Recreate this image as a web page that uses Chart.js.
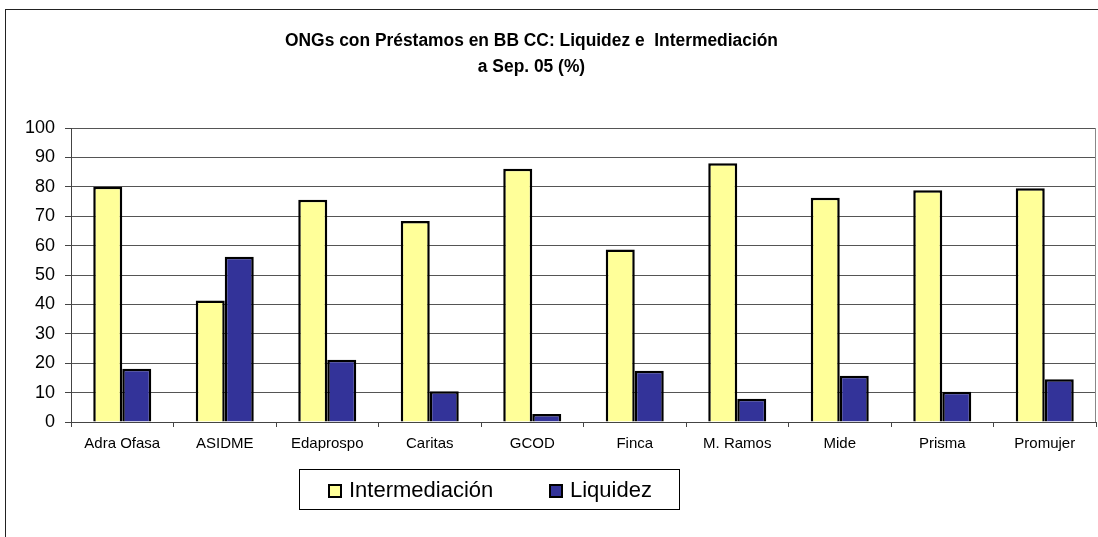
<!DOCTYPE html>
<html>
<head>
<meta charset="utf-8">
<script src="https://cdn.jsdelivr.net/npm/chart.js@4/dist/chart.umd.min.js"></script>
<style>
  body { margin: 0; background: #fff; }
  canvas { display: block; }
</style>
</head>
<body>
<canvas id="chart1" width="1098" height="537"></canvas>
<script>
var categories = ['Adra Ofasa', 'ASIDME', 'Edaprospo', 'Caritas', 'GCOD', 'Finca', 'M. Ramos', 'Mide', 'Prisma', 'Promujer'];
var intermediacion = [80, 41.3, 75.6, 68.4, 86.1, 58.7, 88, 76.3, 78.8, 79.5];
var liquidez = [18.1, 56.2, 21.2, 10.5, 2.7, 17.4, 7.9, 15.7, 10.3, 14.5];
var title_lines = ['ONGs con Préstamos en BB CC: Liquidez e  Intermediación', 'a Sep. 05 (%)'];

// marco exterior, titulo, borde derecho del area y leyenda con recuadro
var frame_plugin = {
    id: 'frame',
    beforeDraw: (chart) => {
        var ctx = chart.ctx;
        ctx.save();
        ctx.fillStyle = '#fff';
        ctx.fillRect(0, 0, chart.width, chart.height);
        ctx.strokeStyle = '#222';
        ctx.lineWidth = 1;
        ctx.strokeRect(5.5, 9.5, 2000, 2000);

        // titulo (algo estrecho, como el original)
        ctx.font = 'bold 18px "Liberation Sans", Arial, sans-serif';
        ctx.fillStyle = '#000';
        ctx.textBaseline = 'middle';
        ctx.textAlign = 'center';
        var w0 = ctx.measureText(title_lines[0]).width;
        var sx = 493 / w0;
        var ys = [41, 67];
        title_lines.forEach((t, i) => {
            ctx.save();
            ctx.translate(531.5, ys[i]);
            ctx.scale(sx, 1);
            ctx.fillText(t, 0, 0);
            ctx.restore();
        });
        ctx.restore();
    },
    afterDraw: (chart) => {
        var ctx = chart.ctx;
        var a = chart.chartArea;
        ctx.save();
        ctx.strokeStyle = '#888';
        ctx.lineWidth = 1;
        ctx.beginPath();
        ctx.moveTo(Math.round(a.right) - 0.5, a.top);
        ctx.lineTo(Math.round(a.right) - 0.5, a.bottom);
        ctx.stroke();

        // leyenda
        ctx.strokeStyle = '#000';
        ctx.strokeRect(299.5, 469.5, 380, 40);
        ctx.font = '22px "Liberation Sans", Arial, sans-serif';
        ctx.textBaseline = 'middle';
        var xs = [328, 549];
        chart.data.datasets.forEach((ds, i) => {
            ctx.fillStyle = ds.backgroundColor;
            ctx.fillRect(xs[i], 484, 14, 14);
            ctx.lineWidth = 2;
            ctx.strokeStyle = '#000';
            ctx.strokeRect(xs[i] + 1, 485, 12, 12);
            ctx.fillStyle = '#000';
            ctx.fillText(ds.label, xs[i] + 21, 491);
        });
        ctx.restore();
    }
};

var my_ctx = document.getElementById('chart1');
var myChart1 = new Chart(my_ctx, {
    type: 'bar',
    data: {
        labels: categories,
        datasets: [{
            label: 'Intermediación',
            data: intermediacion,
            backgroundColor: '#FFFF99',
            borderColor: '#000',
            borderWidth: 2.5,
            barPercentage: 1,
            categoryPercentage: 0.566
        }, {
            label: 'Liquidez',
            data: liquidez,
            backgroundColor: '#333399',
            borderColor: '#000',
            borderWidth: 2.5,
            barPercentage: 1,
            categoryPercentage: 0.566
        }]
    },
    options: {
        responsive: false,
        animation: false,
        layout: {
            padding: { left: 0, right: 2, top: 128, bottom: 0 }
        },
        plugins: {
            legend: { display: false },
            tooltip: { enabled: false },
            title: { display: false }
        },
        scales: {
            x: {
                grid: { drawOnChartArea: false, drawTicks: true, tickLength: 5, color: '#444', offset: true },
                border: { color: '#444', width: 1 },
                ticks: {
                    color: '#000',
                    padding: 8,
                    maxRotation: 0,
                    autoSkip: false,
                    font: { family: '"Liberation Sans", Arial, sans-serif', size: 15 }
                },
                afterFit: (scale) => { scale.height = 115; }
            },
            y: {
                min: 0,
                max: 100,
                grid: { color: '#555', tickLength: 6, tickColor: '#444' },
                border: { color: '#444', width: 1 },
                ticks: {
                    stepSize: 10,
                    color: '#000',
                    padding: 10,
                    font: { family: '"Liberation Sans", Arial, sans-serif', size: 18 }
                },
                afterFit: (scale) => { scale.width = 71; }
            }
        }
    },
    plugins: [frame_plugin]
});
</script>
</body>
</html>
